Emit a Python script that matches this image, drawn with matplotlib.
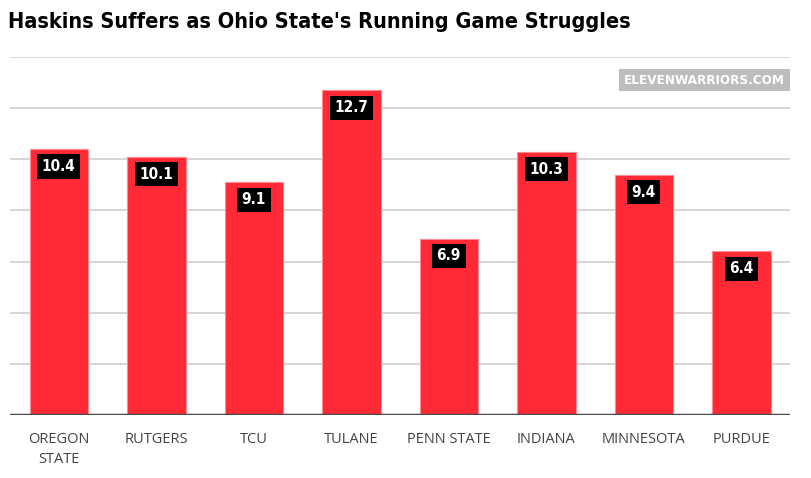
import matplotlib.pyplot as plt

teams = ["OREGON\nSTATE", "RUTGERS", "TCU", "TULANE", "PENN STATE",
         "INDIANA", "MINNESOTA", "PURDUE"]
ypc = [10.4, 10.1, 9.1, 12.7, 6.9, 10.3, 9.4, 6.4]
grid_vals = [2, 4, 6, 8, 10, 12, 14]

fig = plt.figure(figsize=(8.12, 4.78), dpi=100)
ax = fig.add_axes([10 / 812, 63 / 478, 780 / 812, 358 / 478])

x = range(len(teams))
ax.bar(x, ypc, width=0.6, color="#ff2a36", edgecolor="#ff8a90",
       linewidth=0.8, zorder=2)

# value labels in black boxes just under the bar tops
for i, v in enumerate(ypc):
    ax.text(i, v - 0.68, f"{v:.1f}", ha="center", va="center",
            color="white", fontsize=11, fontweight="bold",
            family="DejaVu Sans", fontstretch="condensed", zorder=4,
            bbox=dict(boxstyle="square,pad=0.3", fc="black", ec="none"))

for g in grid_vals:
    ax.axhline(g, color="#cfcfcf", linewidth=1.2, zorder=1)
ax.axhline(0, color="#4a4a4a", linewidth=2.5, zorder=3)

ax.set_xlim(-0.5, len(teams) - 0.5)
ax.set_ylim(0, 14)
ax.set_xticks(list(x))
ax.set_xticklabels(teams, fontsize=10.5, color="#444444", family="Open Sans",
                   linespacing=1.5)
ax.tick_params(axis="x", length=0, pad=12)
ax.set_yticks([])
for s in ax.spines.values():
    s.set_visible(False)

fig.text(8 / 812, 1 - 22 / 478,
         "Haskins Suffers as Ohio State's Running Game Struggles",
         ha="left", va="center", fontsize=15.6, fontweight="bold",
         family="DejaVu Sans", fontstretch="condensed", color="black")

fig.text(785 / 812, 1 - 80 / 478, "ELEVENWARRIORS.COM",
         ha="right", va="center", fontsize=9.6, fontweight="bold",
         family="DejaVu Sans", fontstretch="condensed", color="white",
         bbox=dict(boxstyle="square,pad=0.35", fc="#bdbdbd", ec="none"))

fig.savefig("out.png", dpi=100, facecolor="white")
